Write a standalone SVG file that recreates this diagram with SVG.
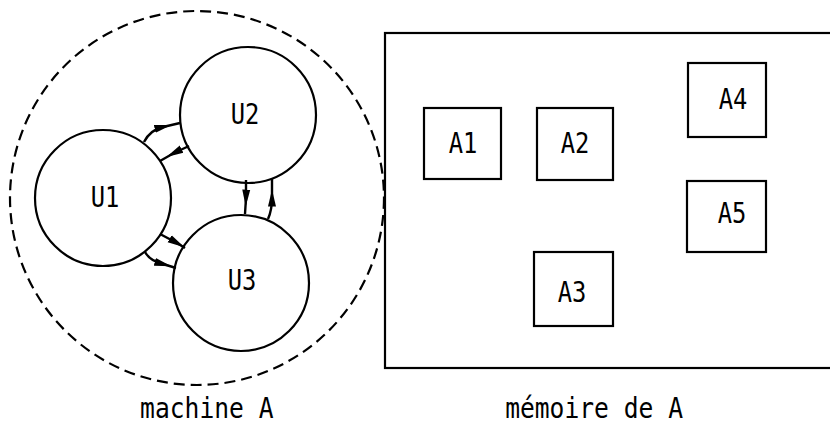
<svg xmlns="http://www.w3.org/2000/svg" width="830" height="435" viewBox="0 0 830 435">
<style>
.node{fill:#fff;stroke:#000;stroke-width:2.2}
.lbl{font-family:"DejaVu Sans Mono","Liberation Mono",monospace;font-size:28px;fill:#000;text-anchor:middle;transform-box:fill-box;transform-origin:center;transform:scaleX(0.85)}
.cap{font-family:"DejaVu Sans Mono","Liberation Mono",monospace;font-size:28px;fill:#000;transform-box:fill-box;transform-origin:center;transform:scaleX(0.88)}
.edge{fill:none;stroke:#000;stroke-width:2.4;marker-mid:url(#ah)}
</style>
<defs>
<marker id="ah" viewBox="0 0 17 10" refX="8.5" refY="5" markerWidth="17" markerHeight="10" markerUnits="userSpaceOnUse" orient="auto">
<path d="M0,1 L17,5 L0,9 Z" fill="#000"/>
</marker>
</defs>
<rect width="830" height="435" fill="#fff"/>
<g id="machine">
<circle cx="197" cy="198" r="187" fill="none" stroke="#000" stroke-width="2.2" stroke-dasharray="11 6"/>
</g>
<g id="memoire">
<rect x="385" y="33" width="470" height="335" fill="none" stroke="#000" stroke-width="2.2"/>
</g>
<g id="U1"><circle class="node" cx="103" cy="198" r="68"/><text class="lbl" x="105" y="207">U1</text></g>
<g id="U2"><circle class="node" cx="248" cy="115" r="68"/><text class="lbl" x="245" y="124">U2</text></g>
<g id="U3"><circle class="node" cx="241" cy="283" r="68"/><text class="lbl" x="242" y="290">U3</text></g>
<g id="A1"><rect class="node" x="424" y="108" width="77" height="71"/><text class="lbl" x="463" y="153">A1</text></g>
<g id="A2"><rect class="node" x="537" y="108" width="76" height="72"/><text class="lbl" x="575" y="153">A2</text></g>
<g id="A3"><rect class="node" x="534" y="252" width="79" height="74"/><text class="lbl" x="572" y="302">A3</text></g>
<g id="A4"><rect class="node" x="688" y="63" width="78" height="74"/><text class="lbl" x="733" y="109">A4</text></g>
<g id="A5"><rect class="node" x="687" y="181" width="79" height="71"/><text class="lbl" x="732" y="223">A5</text></g>
<g id="connectors">
<path class="edge" d="M144,142 Q150,130 163,127 L180,123"/>
<path class="edge" d="M189,146 L174,153 L160,161"/>
<path class="edge" d="M160,234 L177,243 L185,248"/>
<path class="edge" d="M145,252 Q150,261 163,264 L176,268"/>
<path class="edge" d="M246,180 L246,198 L245,214"/>
<path class="edge" d="M268,219 Q272,210 272,198 L272,178"/>
</g>
<text class="cap" x="131" y="418">machine A</text>
<text class="cap" x="493" y="418">mémoire de A</text>
</svg>
